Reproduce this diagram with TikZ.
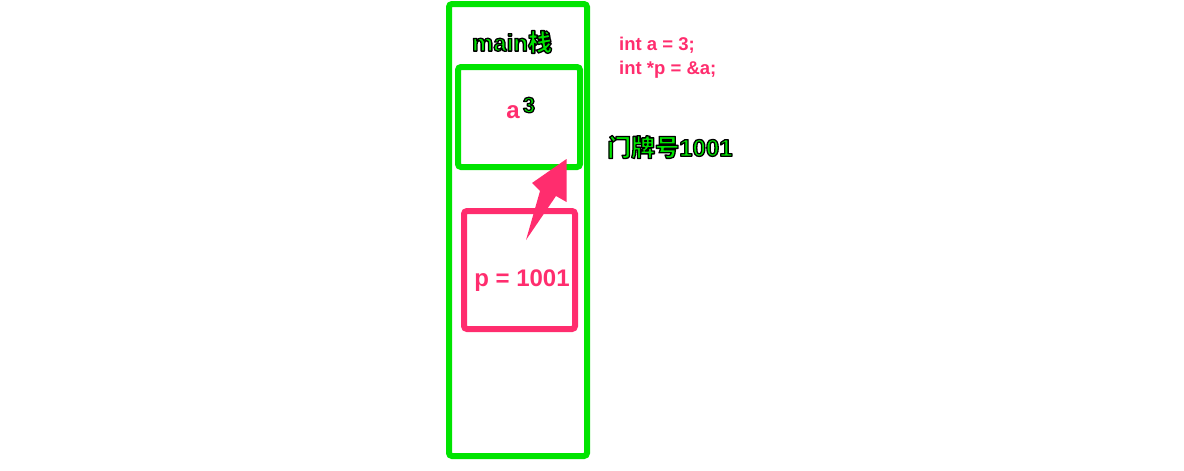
\documentclass[tikz,border=0pt]{standalone}
\usepackage{fontspec}
\setmainfont{Liberation Sans}
\newfontfamily\cjk{Noto Sans CJK SC}
\definecolor{mygreen}{RGB}{0,228,0}
\definecolor{mypink}{RGB}{255,45,110}
\newcommand{\outl}[1]{{\color{mygreen}\special{pdf:literal direct 0 0 0 RG 1.3 w 1 j 2 Tr}#1\special{pdf:literal direct 0 Tr}}}
\tikzset{
  greenbox/.style={draw=mygreen, line width=6pt, rounded corners=3pt},
  pinkbox/.style={draw=mypink, line width=6pt, rounded corners=3pt},
  outlined/.style={font=\bfseries\fontsize{24}{28}\selectfont, inner sep=0pt},
  code/.style={font=\bfseries\fontsize{18.5}{22}\selectfont, text=mypink, inner sep=0pt, anchor=west},
}
\begin{document}
\begin{tikzpicture}[x=1pt,y=-1pt]
\useasboundingbox (0,0) rectangle (1184,471);
% boxes
\draw[greenbox] (449,4) rectangle (587,456);
\draw[greenbox] (458,67) rectangle (580,167);
\draw[pinkbox] (464,211) rectangle (575,329);
% labels
\node[outlined] (mainlbl) at (512,42) {\outl{main\cjk 栈}};
\node[font=\bfseries\fontsize{24}{28}\selectfont, text=mypink, inner sep=0pt] (alabel) at (513,112) {a};
\node[font=\bfseries\fontsize{22}{26}\selectfont, inner sep=0pt] (three) at (529,105) {\outl{3}};
\node[code] (c1) at (619,45) {int a = 3;};
\node[code] (c2) at (619,70) {int *p = \&a;};
\node[outlined, anchor=west] (door) at (607,147) {\outl{\cjk 门牌号\rmfamily 1001}};
\node[font=\bfseries\fontsize{24}{28}\selectfont, text=mypink, inner sep=0pt] (pval) at (522,281) {p = 1001};
% arrow
\coordinate (tail) at (526,240);
\coordinate (tip) at (566.5,159);
\fill[mypink] (tail) -- (540,191) -- (532,183) -- (tip) -- (566.5,202) -- (556,196) -- cycle;
\end{tikzpicture}
\end{document}
